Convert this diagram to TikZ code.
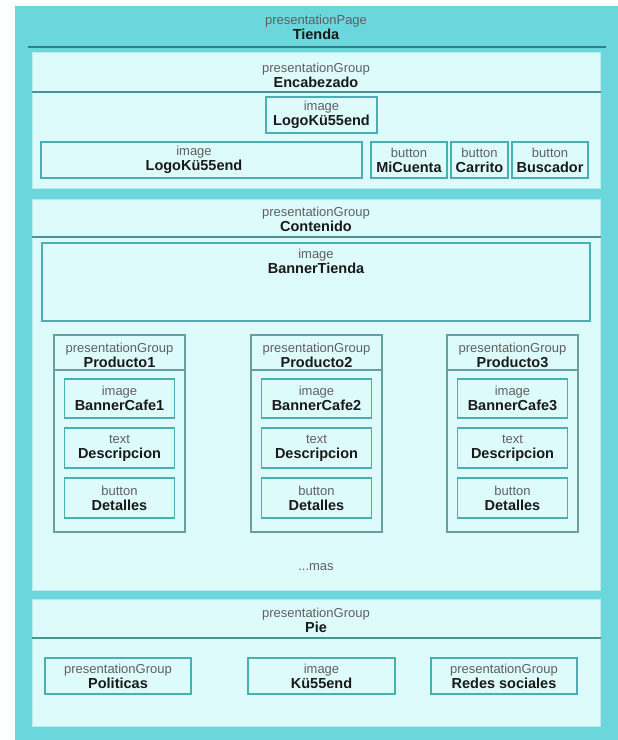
\documentclass[tikz,border=0pt]{standalone}
\usepackage{fontspec}
\setmainfont{Liberation Sans}
\definecolor{pagec}{RGB}{108,214,221}
\definecolor{grpfill}{RGB}{222,251,252}
\definecolor{grpline}{RGB}{185,236,238}
\definecolor{boxc}{RGB}{72,176,178}
\definecolor{prodc}{RGB}{105,158,160}
\definecolor{sepc}{RGB}{70,150,150}
\definecolor{darksep}{RGB}{45,128,132}
\definecolor{lblc}{RGB}{95,95,95}
\definecolor{nmc}{RGB}{25,25,25}
\newcommand\lblf{\fontsize{13}{15}\selectfont\color{lblc}}
\newcommand\nmf{\fontsize{14.5}{15}\selectfont\bfseries\color{nmc}}
\newcommand\twol[2]{{\lblf #1}\\{\nmf #2}}
\begin{document}
\begin{tikzpicture}[x=1pt,y=-1pt,
  pagebox/.style={fill=pagec, draw=none, inner sep=0pt},
  grp/.style={draw=grpline, line width=1pt, fill=grpfill, inner sep=0pt},
  prod/.style={draw=prodc, line width=1.3pt, fill=grpfill, inner sep=0pt},
  elem/.style={draw=boxc, line width=1.4pt, fill=grpfill, inner sep=0pt, align=center, font=\fontsize{14}{15}\selectfont},
  ttl/.style={align=center, inner sep=0pt, font=\fontsize{14}{15}\selectfont},
  sep/.style={draw=sepc, line width=1.2pt},
  pagesep/.style={draw=darksep, line width=2pt},
]
\fill[white] (0,0) rectangle (618,740);
\useasboundingbox (0,0) rectangle (618,740);

% page
\node[pagebox, minimum width=603pt, minimum height=734pt] (page) at (316.5,373) {};
\node[ttl] (pageT) at (316,27) {\twol{presentationPage}{Tienda}};
\coordinate (pl1) at (28,47);
\coordinate (pl2) at (606,47);
\draw[pagesep] (pl1) -- (pl2);

% Encabezado
\node[grp, minimum width=568pt, minimum height=136pt] (enc) at (316,120) {};
\node[ttl] (encT) at (316,75.5) {\twol{presentationGroup}{Encabezado}};
\coordinate (encs) at (0,92);
\draw[sep] (enc.west |- encs) -- (enc.east |- encs);
\node[elem, minimum width=111pt, minimum height=36pt] (logoA) at (321.5,115) {\twol{image}{LogoKü55end}};
\node[elem, minimum width=321pt, minimum height=36pt] (logoB) at (201.5,160) {};
\node[ttl] (logoBT) at (194,160) {\twol{image}{LogoKü55end}};
\node[elem, minimum width=76pt, minimum height=36pt] (micuenta) at (409,160) {\twol{button}{MiCuenta}};
\node[elem, minimum width=57pt, minimum height=36pt] (carrito) at (479.5,160) {\twol{button}{Carrito}};
\node[elem, minimum width=76pt, minimum height=36pt] (buscador) at (550,160) {\twol{button}{Buscador}};

% Contenido
\node[grp, minimum width=568pt, minimum height=391pt] (cont) at (316,394.5) {};
\node[ttl] (contT) at (316,219.5) {\twol{presentationGroup}{Contenido}};
\coordinate (conts) at (0,237);
\draw[sep] (cont.west |- conts) -- (cont.east |- conts);
\node[elem, minimum width=548pt, minimum height=78pt] (banner) at (316,282) {};
\node[ttl] (bannerT) at (316,261.5) {\twol{image}{BannerTienda}};

\foreach \i/\cx in {1/119.5,2/316.5,3/512.5}{
  \node[prod, minimum width=131pt, minimum height=197pt] (prod\i) at (\cx,433.5) {};
  \node[ttl] (prodT\i) at (\cx,355) {\twol{presentationGroup}{Producto\i}};
  \coordinate (prods\i) at (0,370);
  \draw[draw=prodc, line width=1.2pt] (prod\i.west |- prods\i) -- (prod\i.east |- prods\i);
  \node[elem, minimum width=110pt, minimum height=39pt] (cafe\i) at (\cx,398.5) {\twol{image}{BannerCafe\i}};
  \node[elem, minimum width=110pt, minimum height=40pt] (desc\i) at (\cx,448) {\twol{text}{Descripcion}};
  \node[elem, minimum width=110pt, minimum height=40pt] (det\i) at (\cx,498) {\twol{button}{Detalles}};
}
\node[ttl] (mas) at (316,567) {\lblf ...mas};

% Pie
\node[grp, minimum width=568pt, minimum height=127pt] (pie) at (316,662.5) {};
\node[ttl] (pieT) at (316,620) {\twol{presentationGroup}{Pie}};
\coordinate (pies) at (0,638);
\draw[sep] (pie.west |- pies) -- (pie.east |- pies);
\node[elem, minimum width=146pt, minimum height=36pt] (pol) at (118,676) {\twol{presentationGroup}{Politicas}};
\node[elem, minimum width=147pt, minimum height=36pt] (kus) at (321.5,676) {\twol{image}{Kü55end}};
\node[elem, minimum width=146pt, minimum height=36pt] (redes) at (504,676) {\twol{presentationGroup}{Redes sociales}};
\end{tikzpicture}
\end{document}
